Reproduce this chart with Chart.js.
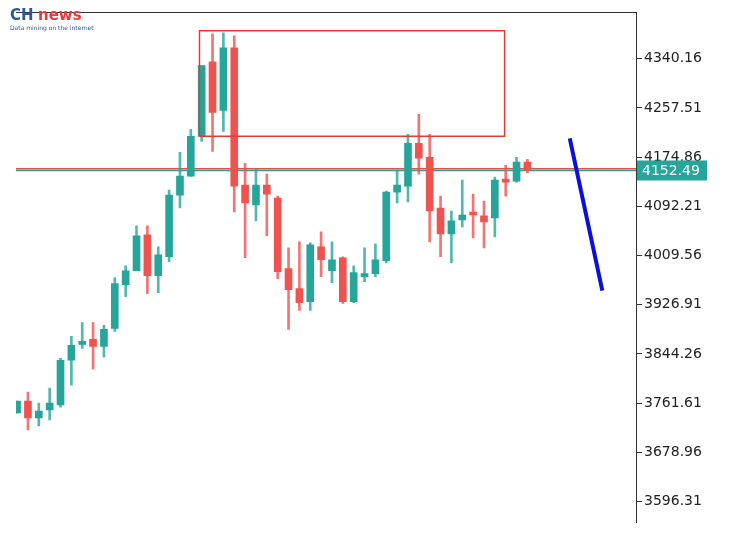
<!DOCTYPE html>
<html>
<head>
<meta charset="utf-8">
<script src="https://cdn.jsdelivr.net/npm/chart.js@4/dist/chart.umd.min.js"></script>
<style>
  html, body { margin: 0; padding: 0; background: #fff; }
  #wrap { width: 729px; height: 533px; }
</style>
</head>
<body>
<div id="wrap"><canvas id="candles"></canvas></div>
<script>
// candle values (open, high, low, close)
const opens  = [3745.1,3765.0,3736.7,3750.1,3758.5,3833.7,3860.4,3868.8,3857.1,3887.2,3960.7,3984.1,4044.3,3975.8,4007.5,4111.2,4142.9,4209.8,4335.2,4253.3,4358.6,4127.9,4094.5,4127.9,4106.2,3987.5,3954.1,3932.3,4024.2,3984.1,4005.9,3932.3,3974.1,3979.1,4000.8,4116.2,4126.2,4198.1,4174.7,4089.4,4046.0,4069.4,4081.1,4076.1,4072.7,4136.2,4134.6,4166.6];
const highs  = [3765.0,3780.2,3761.8,3786.9,3837.0,3873.8,3897.2,3897.2,3892.2,3972.4,3992.5,4059.4,4059.4,4024.2,4119.5,4183.0,4221.5,4328.5,4382.0,4383.6,4378.6,4164.7,4154.6,4146.3,4109.5,4022.6,4032.6,4030.9,4049.3,4032.6,4007.5,3992.5,4022.6,4029.3,4117.9,4153.0,4213.1,4246.6,4213.1,4109.5,4084.4,4136.2,4112.8,4101.1,4141.3,4161.3,4174.7,4171.3];
const lows   = [3745.0,3716.7,3723.4,3733.4,3755.1,3791.9,3853.7,3818.6,3838.7,3882.2,3940.7,3984.1,3945.7,3947.4,3999.2,4089.4,4142.9,4201.4,4184.7,4218.1,4082.8,4005.9,4067.7,4042.6,3970.7,3885.5,3917.3,3917.3,3974.1,3964.1,3929.0,3930.6,3965.8,3974.1,3997.5,4097.8,4099.5,4146.3,4032.6,4007.5,3997.5,4057.7,4039.3,4022.6,4041.0,4109.5,4132.9,4148.3];
const closes = [3765.1,3736.7,3748.4,3761.8,3833.7,3858.8,3865.4,3857.1,3885.5,3962.4,3984.1,4042.6,3975.8,4010.9,4111.2,4142.9,4209.8,4328.5,4249.9,4358.6,4126.2,4097.8,4127.9,4112.8,3982.4,3952.4,3930.6,4027.6,4002.5,4002.5,3932.3,3980.8,3977.4,4002.5,4116.2,4127.9,4198.1,4173.0,4084.4,4046.0,4067.7,4077.7,4077.7,4066.0,4136.2,4132.9,4166.6,4153.6];
const yTicks = [4340.16,4257.51,4174.86,4092.21,4009.56,3926.91,3844.26,3761.61,3678.96,3596.31];
const lastPrice = 4152.49;
const resistLevel = 4155.6;
// drawn objects: rectangle zone and forecast line (x = bar index, y = price)
const zoneX = [16.8, 44.9];
const zoneY = [4209.8, 4387.0];
const forecastX = [50.9, 53.9];
const forecastY = [4206.5, 3950.7];

const UP = "#26a69a", DOWN = "#ef5350";
const idx = opens.map((_, i) => i);
const colors = idx.map(i => closes[i] >= opens[i] ? UP : DOWN);

const rect = [
  { x: zoneX[0], y: zoneY[0] }, { x: zoneX[0], y: zoneY[1] },
  { x: zoneX[1], y: zoneY[1] }, { x: zoneX[1], y: zoneY[0] },
  { x: zoneX[0], y: zoneY[0] }
];

const priceTag = {
  id: "priceTag",
  afterDraw(chart) {
    const { ctx, chartArea, scales } = chart;
    const y = scales.y.getPixelForValue(lastPrice);
    ctx.save();
    ctx.fillStyle = UP;
    ctx.fillRect(chartArea.right + 1, y - 10, 70, 20);
    ctx.fillStyle = "#fff";
    ctx.font = "14px 'DejaVu Sans'";
    ctx.textBaseline = "middle";
    ctx.fillText(lastPrice.toFixed(2), chartArea.right + 6, y + 1);
    // top frame
    ctx.strokeStyle = "#333";
    ctx.lineWidth = 1;
    ctx.beginPath();
    ctx.moveTo(chartArea.left, chartArea.top + 0.5);
    ctx.lineTo(chartArea.right, chartArea.top + 0.5);
    ctx.stroke();
    // logo
    ctx.font = "bold 15px 'DejaVu Sans'";
    ctx.fillStyle = "#2b5a9b";
    ctx.fillText("CH", 10, 16);
    ctx.fillStyle = "#e23b3b";
    ctx.fillText("news", 38, 16);
    ctx.font = "6px 'DejaVu Sans'";
    ctx.fillStyle = "#2b5a9b";
    ctx.fillText("Data mining on the internet", 10, 28);
    ctx.restore();
  }
};

new Chart(document.getElementById("candles").getContext("2d"), {
  type: "bar",
  data: {
    datasets: [
      {
        type: "line", data: [{ x: -1, y: resistLevel }, { x: 57, y: resistLevel }],
        borderColor: "#e05050", borderWidth: 1.5, pointRadius: 0, order: 5
      },
      {
        type: "line", data: [{ x: -1, y: lastPrice }, { x: 57, y: lastPrice }],
        borderColor: "#3a9a8a", borderWidth: 1.5, pointRadius: 0, order: 5
      },
      {
        label: "wick",
        data: idx.map(i => ({ x: i, y: [lows[i], highs[i]] })),
        backgroundColor: colors.map(c => c + "cc"),
        barThickness: 2, grouped: false, order: 3
      },
      {
        label: "body",
        data: idx.map(i => ({ x: i, y: [opens[i], closes[i]] })),
        backgroundColor: colors,
        barThickness: 7, minBarLength: 3, grouped: false, order: 2
      },
      {
        type: "line", data: rect, borderColor: "#e53935", borderWidth: 1.5,
        pointRadius: 0, order: 1
      },
      {
        type: "line", data: forecastX.map((x, i) => ({ x, y: forecastY[i] })),
        borderColor: "#0a10d8", borderWidth: 4, pointRadius: 0, order: 1
      }
    ]
  },
  options: {
    responsive: true,
    maintainAspectRatio: false,
    animation: false,
    layout: { padding: { left: 16, top: 12, bottom: 8, right: 0 } },
    plugins: { legend: { display: false }, tooltip: { enabled: false } },
    scales: {
      x: { type: "linear", min: -0.1, max: 57, offset: false, display: false },
      y: {
        position: "right",
        min: 3561, max: 4418.7,
        afterBuildTicks: s => { s.ticks = yTicks.map(v => ({ value: v })); },
        afterFit: s => { s.width = 93; },
        grid: { drawOnChartArea: false, color: "#333", tickLength: 6 },
        border: { color: "#333" },
        ticks: {
          color: "#222", font: { family: "DejaVu Sans", size: 14 },
          callback: v => v.toFixed(2), padding: 2
        }
      }
    }
  },
  plugins: [priceTag]
});
</script>
</body>
</html>
